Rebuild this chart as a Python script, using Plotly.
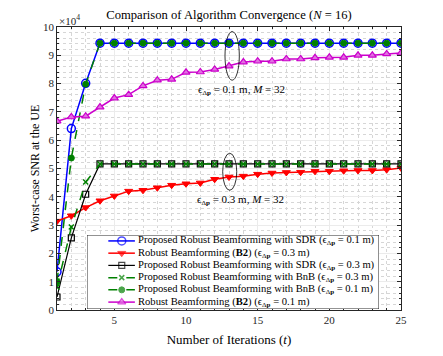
import plotly.graph_objects as go

# ---------------- data (values in units of 10^4) ----------------
iterations = list(range(1, 26))

sdr_01 = [1.35, 6.41, 8.01, 9.43, 9.43, 9.43, 9.43, 9.43, 9.43, 9.43, 9.43, 9.43, 9.43,
          9.43, 9.43, 9.43, 9.43, 9.43, 9.43, 9.43, 9.43, 9.43, 9.43, 9.43, 9.43]
b2_03 = [3.14, 3.33, 3.62, 3.86, 4.03, 4.20, 4.23, 4.32, 4.41, 4.46, 4.49, 4.62, 4.70,
         4.73, 4.80, 4.84, 4.86, 4.87, 4.90, 4.90, 4.92, 4.93, 4.93, 4.96, 5.02]
sdr_03 = [0.46, 2.55, 4.09, 5.16, 5.16, 5.16, 5.16, 5.16, 5.16, 5.16, 5.16, 5.16, 5.16,
          5.16, 5.16, 5.16, 5.16, 5.16, 5.16, 5.16, 5.16, 5.16, 5.16, 5.16, 5.16]
bnb_03 = [0.81, 2.93, 4.52, 5.16, 5.16, 5.16, 5.16, 5.16, 5.16, 5.16, 5.16, 5.16, 5.16,
          5.16, 5.16, 5.16, 5.16, 5.16, 5.16, 5.16, 5.16, 5.16, 5.16, 5.16, 5.16]
bnb_01 = [1.00, 5.37, 7.98, 9.43, 9.43, 9.43, 9.43, 9.43, 9.43, 9.43, 9.43, 9.43, 9.43,
          9.43, 9.43, 9.43, 9.43, 9.43, 9.43, 9.43, 9.43, 9.43, 9.43, 9.43, 9.43]
b2_01 = [6.67, 6.82, 6.85, 7.17, 7.49, 7.61, 7.92, 8.12, 8.15, 8.40, 8.41, 8.50, 8.62,
         8.76, 8.79, 8.79, 8.87, 8.87, 8.91, 8.93, 8.93, 9.00, 9.00, 9.05, 9.08]

EPS = 'ϵ<sub><span style="font-size:7px">Δ<b>p</b></span></sub>'
series_names = [
    f"Proposed Robust Beamforming with SDR ({EPS} = 0.1 m)",
    f"Robust Beamforming (<b>B2</b>) ({EPS} = 0.3 m)",
    f"Proposed Robust Beamforming with SDR ({EPS} = 0.3 m)",
    f"Proposed Robust Beamforming with BnB ({EPS} = 0.3 m)",
    f"Proposed Robust Beamforming with BnB ({EPS} = 0.1 m)",
    f"Robust Beamforming (<b>B2</b>) ({EPS} = 0.1 m)",
]
series_values = [sdr_01, b2_03, sdr_03, bnb_03, bnb_01, b2_01]

x_tick_vals = [5, 10, 15, 20, 25]
y_tick_vals = [0, 1, 2, 3, 4, 5, 6, 7, 8, 9, 10]

# ---------------- styles ----------------
FONT = "Liberation Serif"
GREEN = "#008000"
MAG = "#cc00cc"
styles = [
    dict(line=dict(color="#0000ff", width=1.5),
         marker=dict(symbol="circle-open", size=8, color="#0000ff", line=dict(width=1.5))),
    dict(line=dict(color="#ff0000", width=1.5),
         marker=dict(symbol="triangle-down", size=7, color="#ff0000", line=dict(width=1, color="#ff0000"))),
    dict(line=dict(color="#000000", width=1.2),
         marker=dict(symbol="square-open", size=6, color="#000000", line=dict(width=1.2))),
    dict(line=dict(color=GREEN, width=1.5, dash="dash"),
         marker=dict(symbol="x-thin-open", size=5, color=GREEN, line=dict(width=1.5, color=GREEN))),
    dict(line=dict(color=GREEN, width=1.5, dash="dash"),
         marker=dict(symbol="circle", size=6, color=GREEN, line=dict(width=1, color=GREEN))),
    dict(line=dict(color=MAG, width=1.5),
         marker=dict(symbol="triangle-up", size=7, color="#e070e0", line=dict(width=1.2, color=MAG))),
]

fig = go.Figure()
for name, vals, st in zip(series_names, series_values, styles):
    fig.add_trace(go.Scatter(x=iterations, y=vals, mode="lines+markers", name=name,
                             line=st["line"], marker=st["marker"], showlegend=False,
                             xaxis="x", yaxis="y"))

# ---------------- custom legend (MATLAB-like compact box) ----------------
leg_x0, leg_x1 = 0.0872, 0.936
leg_y0, leg_y1 = 0.0035, 0.265
for i, (name, st) in enumerate(zip(series_names, styles)):
    yr = 1 - (6.0 + 12.4 * i) / 75.0
    mk = dict(st["marker"])
    mk["size"] = [0, st["marker"]["size"], 0]
    fig.add_trace(go.Scatter(x=[0.073, 0.119, 0.164], y=[yr, yr, yr], mode="lines+markers",
                             line=st["line"], marker=mk, showlegend=False, hoverinfo="skip",
                             xaxis="x2", yaxis="y2", cliponaxis=False))
    fig.add_annotation(x=0.168, y=yr, xref="x2", yref="y2", text=name, showarrow=False,
                       xanchor="left", yanchor="middle", font=dict(family=FONT, size=10.6, color="#000"))
fig.add_shape(type="rect", xref="x2", yref="y2", x0=0, x1=1, y0=0, y1=1,
              fillcolor="white", line=dict(color="#262626", width=1), layer="below")

# ---------------- ellipses and labels ----------------
fig.add_shape(type="circle", xref="x", yref="y", x0=12.72, x1=13.72, y0=8.12, y1=9.84,
              line=dict(color="#000", width=0.8))
fig.add_shape(type="circle", xref="x", yref="y", x0=12.56, x1=13.54, y0=4.23, y1=5.54,
              line=dict(color="#000", width=0.8))
fig.add_annotation(x=13.84, y=7.78, xref="x", yref="y", showarrow=False,
                   text=f"{EPS} = 0.1 m, <i>M</i> = 32", font=dict(family=FONT, size=11, color="#000"))
fig.add_annotation(x=13.77, y=3.88, xref="x", yref="y", showarrow=False,
                   text=f"{EPS} = 0.3 m, <i>M</i> = 32", font=dict(family=FONT, size=11, color="#000"))

fig.add_annotation(x=0, y=1, xref="paper", yref="paper", xanchor="left", yanchor="bottom",
                   text="×10<sup>4</sup>", showarrow=False, yshift=-2,
                   font=dict(family=FONT, size=11, color="#262626"))

axis_common = dict(showline=True, linecolor="#262626", linewidth=0.8, mirror="allticks",
                   ticks="inside", ticklen=4, tickcolor="#262626", zeroline=False,
                   showgrid=True, gridcolor="#ebebeb", gridwidth=1,
                   tickfont=dict(family=FONT, size=11, color="#262626"))

# page body has a default 8px margin: figure is sized so the plot area lands
# at the same page pixels as in the reference
fig.update_layout(
    width=435, height=348,
    margin=dict(l=49, r=42, t=19, b=42),
    paper_bgcolor="white", plot_bgcolor="white",
    title=dict(text="Comparison of Algorithm Convergence (<i>N</i> = 16)", x=0.5, xref="paper",
               y=1, yref="container", yanchor="top", pad=dict(t=2),
               font=dict(family=FONT, size=12.6, color="#000")),
    xaxis=dict(range=[1, 25], tick0=0, dtick=5, domain=[0, 1],
               title=dict(text="Number of Iterations (<i>t</i>)", standoff=9,
                          font=dict(family=FONT, size=13, color="#000")),
               minor=dict(tick0=0, dtick=1, showgrid=True, griddash="dot", gridcolor="#d6d6d6",
                          ticks="inside", ticklen=2, tickcolor="#262626"),
               **axis_common),
    yaxis=dict(range=[0, 10], tickvals=y_tick_vals, domain=[0, 1],
               title=dict(text="Worst-case SNR at the UE", standoff=0,
                          font=dict(family=FONT, size=12, color="#000")),
               minor=dict(tick0=0, dtick=0.2, showgrid=True, griddash="dot", gridcolor="#d6d6d6",
                          ticks="inside", ticklen=2, tickcolor="#262626"),
               **axis_common),
    xaxis2=dict(domain=[leg_x0, leg_x1], range=[0, 1], anchor="y2", visible=False, fixedrange=True),
    yaxis2=dict(domain=[leg_y0, leg_y1], range=[0, 1], anchor="x2", visible=False, fixedrange=True),
    showlegend=False,
)
fig.update_xaxes(tickvals=x_tick_vals, selector=dict(anchor="y"))

fig.write_html("out.html")
